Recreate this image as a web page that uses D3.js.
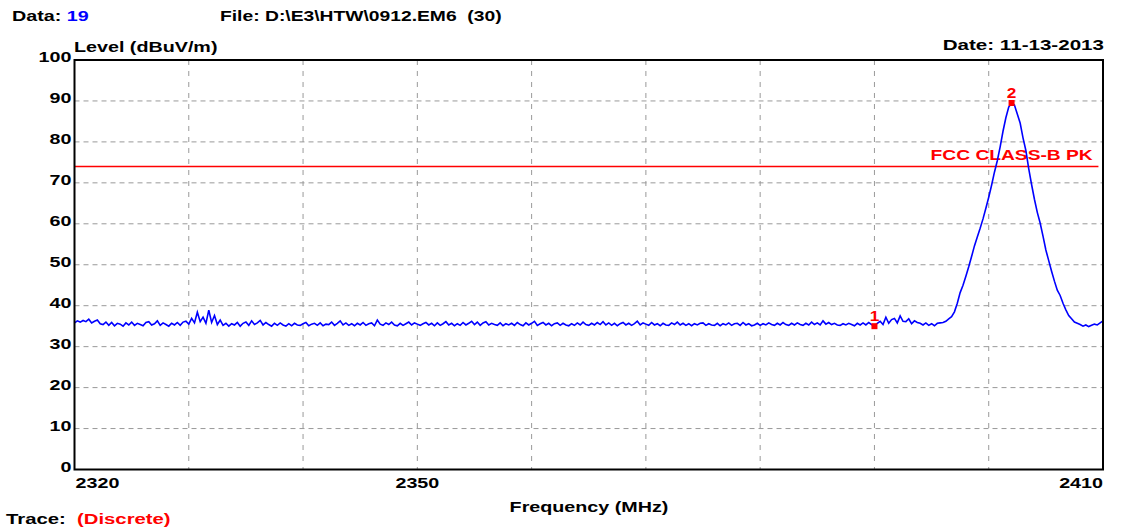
<!DOCTYPE html>
<html><head><meta charset="utf-8">
<script src="https://cdn.jsdelivr.net/npm/d3@7"></script>
<style>body{margin:0;background:#fff}svg{display:block}text{font-family:Arial,"Liberation Sans",sans-serif;font-weight:bold}</style>
</head><body><svg id="c" width="1125" height="530"></svg>
<script>
// ---- data ----
const freqStart = 2320, freqStep = 0.25;
const levels = [
35.8,36.3,36.0,36.4, 36.1,36.7,35.8,36.2, 36.5,35.6,35.4,36.0, 35.2,35.9,35.1,35.7,
35.5,35.0,35.8,35.3, 36.0,35.2,35.7,35.4, 35.1,35.9,36.1,35.3, 35.6,36.3,35.2,35.8,
35.4,35.0,35.7,35.3, 35.9,35.2,36.0,36.2, 35.5,36.9,35.8,38.4, 36.1,37.2,35.7,38.9,
35.9,37.6,35.4,36.5, 35.2,35.7,35.0,35.6, 35.3,35.9,35.0,35.7, 36.0,35.2,36.3,35.4,
35.8,36.4,35.3,35.9, 35.4,35.0,35.7,35.2, 35.8,35.3,35.0,35.6, 35.1,35.7,35.3,35.2,
35.6,35.9,35.1,35.5, 35.7,35.2,35.8,35.1, 35.5,35.4,36.0,35.2, 35.7,36.3,35.3,35.8,
35.2,35.6,35.1,35.7, 35.3,35.9,35.2,35.6, 35.8,35.1,36.5,35.5, 35.2,35.8,35.4,36.0,
35.3,35.1,35.7,35.2, 35.6,36.0,35.3,35.8, 35.5,35.2,35.6,35.9, 35.3,35.7,35.1,35.8,
35.2,35.6,36.1,35.3, 35.7,35.1,35.6,35.2, 35.9,35.3,35.7,36.2, 35.4,36.0,35.2,35.8,
36.1,35.3,35.7,35.4, 35.2,35.8,35.1,35.6, 35.3,35.7,35.2,35.9, 35.4,35.1,35.8,35.3,
35.7,36.2,35.2,35.6, 35.9,35.3,35.7,35.1, 35.6,35.8,35.2,35.7, 35.3,35.1,35.6,35.2,
35.8,35.3,36.0,35.4, 35.2,35.7,35.3,35.9, 35.4,36.1,35.3,35.8, 35.2,35.7,35.1,35.6,
35.9,35.3,35.7,35.2, 35.6,36.2,35.3,35.8, 35.5,35.2,35.9,35.3, 35.6,35.1,35.7,35.3,
35.2,35.8,35.4,36.0, 35.3,35.7,35.2,35.6, 35.1,35.6,35.3,35.7, 35.8,35.2,35.6,35.3,
35.2,35.7,35.1,35.6, 35.3,35.8,35.2,35.6, 35.7,35.2,35.9,35.3, 35.6,35.1,35.3,35.7,
35.2,35.6,35.3,35.8, 35.4,35.2,35.7,35.3, 35.9,35.4,35.2,35.7, 35.3,35.8,35.4,35.2,
35.7,35.3,36.0,35.4, 35.8,35.3,36.3,35.5, 35.9,35.4,35.7,35.3, 35.2,35.6,35.3,35.7,
35.4,35.1,35.7,35.3, 35.8,35.3,35.9,35.4, 35.0,35.7,36.2,35.4, 37.2,35.7,36.6,36.9,
35.8,37.5,36.2,36.1, 36.8,35.6,36.3,35.9, 35.7,35.3,35.8,35.2, 35.6,35.1,35.7,35.8,
35.9,36.2,36.8,37.3, 38.5,40.6,43.2,45.0, 47.2,49.5,52.0,54.6, 56.8,58.9,61.2,63.8,
66.5,69.4,72.6,75.4, 78.8,82.6,85.9,88.5, 89.5,89.0,86.8,84.6, 81.0,77.9,73.5,69.6,
66.0,62.8,60.2,57.0, 53.6,51.0,48.4,46.0, 43.8,42.5,40.6,39.0, 37.6,36.8,36.0,35.7,
35.4,35.0,35.3,34.9, 35.2,35.5,35.3,35.8, 36.3
];
const limitLevel = 74;
const limitLabel = "FCC CLASS-B PK";
const markerNames = ["1","2"];
const markerFreqs = [2390, 2402];
const markerLevels = [35.0, 89.5];
const yTicks = [0,10,20,30,40,50,60,70,80,90,100];
const xGrid = [2330,2340,2350,2360,2370,2380,2390,2400];
const xLabels = [2320,2350,2410];

// ---- chart ----
const svg = d3.select("#c");
const L = 74.5, R = 1103, T = 60, B = 469.5;
const SX = 1.36, FS = 14.5;
const x = d3.scaleLinear().domain([2320,2410]).range([L,R]);
const y = d3.scaleLinear().domain([0,100]).range([B,T]);

function label(px, py, anchor, parts, opts={}) {
  const t = svg.append("text")
    .attr("transform", `translate(${px},${py}) scale(${opts.sx||SX},1)`)
    .attr("text-anchor", anchor).attr("font-size", opts.fs||FS)
    .style("white-space","pre");
  if (opts.weight) t.attr("font-weight", opts.weight);
  parts.forEach(p => t.append("tspan").attr("fill", p[1]).text(p[0]));
  return t;
}

// grid
svg.append("g").selectAll("line").data(yTicks.filter(d=>d>0&&d<100)).join("line")
  .attr("x1",L).attr("x2",R).attr("y1",d=>y(d)).attr("y2",d=>y(d))
  .attr("stroke","#999").attr("stroke-width",1).attr("stroke-dasharray","5,4");
svg.append("g").selectAll("line").data(xGrid).join("line")
  .attr("x1",d=>x(d)).attr("x2",d=>x(d)).attr("y1",T).attr("y2",B)
  .attr("stroke","#999").attr("stroke-width",1).attr("stroke-dasharray","5,6");

// limit line
svg.append("line").attr("x1",L).attr("x2",x(2409.6)).attr("y1",y(limitLevel)).attr("y2",y(limitLevel))
  .attr("stroke","#ff0000").attr("stroke-width",1.5);
label(x(2409.1), y(limitLevel)-6, "end", [[limitLabel,"#ff0000"]], {fs:15.5, sx:1.24});

// trace
const pts = levels.map((v,i)=>[freqStart+i*freqStep, v]);
svg.append("path").datum(pts)
  .attr("d", d3.line().x(d=>x(d[0])).y(d=>y(d[1])))
  .attr("fill","none").attr("stroke","#0000ff").attr("stroke-width",1.6);

// markers
const mk = markerNames.map((n,i)=>({n, f:markerFreqs[i], v:markerLevels[i]}));
svg.append("g").selectAll("rect").data(mk).join("rect")
  .attr("x",d=>x(d.f)-3).attr("y",d=>y(d.v)-3).attr("width",6).attr("height",6).attr("fill","#ff0000");
mk.forEach(d => label(x(d.f), y(d.v)-5, "middle", [[d.n,"#ff0000"]], {fs:15, sx:1.15, weight:"normal"}));

// frame
svg.append("rect").attr("x",L).attr("y",T).attr("width",R-L).attr("height",B-T)
  .attr("fill","none").attr("stroke","#000").attr("stroke-width",2);

// y tick labels
yTicks.forEach(d => label(L-3, y(d)+2, "end", [[String(d),"#000"]]));

// x tick labels
xLabels.forEach((d,i) => label(i===0 ? x(d)+1 : x(d), 488,
  i===0 ? "start" : (i===xLabels.length-1 ? "end" : "middle"), [[String(d),"#000"]]));

// titles
label(12, 21, "start", [["Data: ","#000"],["19","#0000ff"]]);
label(220, 21, "start", [["File: D:\\E3\\HTW\\0912.EM6  (30)","#000"]], {sx:1.33});
label(74, 52, "start", [["Level (dBuV/m)","#000"]]);
label(1104, 50, "end", [["Date: 11-13-2013","#000"]], {sx:1.42});
label(589, 512, "middle", [["Frequency (MHz)","#000"]]);
label(6, 524, "start", [["Trace:  ","#000"],["(Discrete)","#ff0000"]], {sx:1.4});
</script></body></html>
